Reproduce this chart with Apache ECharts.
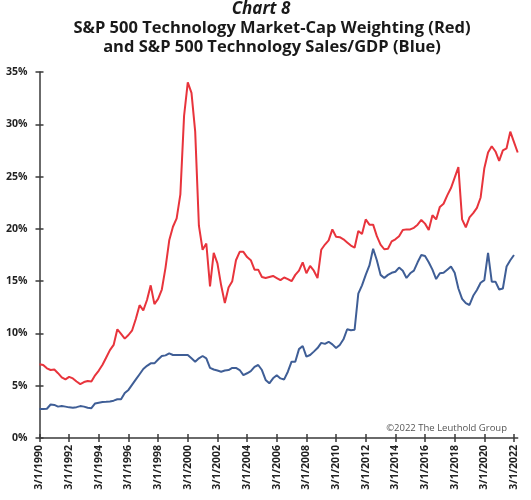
<!DOCTYPE html>
<html>
<head>
<meta charset="utf-8">
<script src="https://cdn.jsdelivr.net/npm/echarts@6/dist/echarts.min.js"></script>
<style>html,body{margin:0;padding:0;background:#fff}#c{width:531px;height:500px}</style>
</head>
<body>
<div id="c"></div>
<script>
// Quarterly observations, first quarter 3/1/1990
const startYear = 1990;
const quarterCount = 130;
const quarterMonths = [3, 6, 9, 12];
const yTicks = [0, 5, 10, 15, 20, 25, 30, 35];

// S&P 500 Technology market-cap weighting (%)
const marketCapWeight = [
  7.05, 6.98, 6.66, 6.5, 6.55, 6.2, 5.8, 5.6, 5.85, 5.7,
  5.4, 5.15, 5.35, 5.45, 5.4, 6.0, 6.45, 7.0, 7.7, 8.4,
  8.9, 10.4, 9.95, 9.5, 9.85, 10.3, 11.4, 12.7, 12.2, 13.2,
  14.6, 12.8, 13.3, 14.2, 16.3, 18.9, 20.2, 21.0, 23.3, 30.8,
  34.0, 33.0, 29.3, 20.3, 18.0, 18.6, 14.5, 17.7, 16.7, 14.6,
  12.9, 14.4, 15.0, 17.0, 17.8, 17.8, 17.3, 17.0, 16.1, 16.1,
  15.4, 15.3, 15.4, 15.5, 15.3, 15.1, 15.35, 15.2, 15.0, 15.6,
  16.0, 16.8, 15.75, 16.45, 16.0, 15.3, 18.0, 18.5, 18.9, 19.95,
  19.25, 19.2, 19.0, 18.7, 18.4, 18.2, 19.8, 19.5, 20.9, 20.4,
  20.4, 19.3, 18.5, 18.05, 18.1, 18.8, 19.0, 19.3, 19.9, 19.95,
  19.95, 20.1, 20.4, 20.85, 20.5, 19.9, 21.3, 20.9, 22.1, 22.4,
  23.2, 23.9, 24.9, 25.9, 20.9, 20.15, 21.1, 21.5, 22.0, 23.0,
  25.8, 27.3, 27.9, 27.4, 26.5, 27.5, 27.7, 29.3, 28.3, 27.3
];

// S&P 500 Technology sales / GDP (%)
const salesToGdp = [
  2.77, 2.77, 2.8, 3.2, 3.16, 3.0, 3.05, 3.0, 2.93, 2.9,
  2.95, 3.05, 3.0, 2.9, 2.85, 3.3, 3.38, 3.45, 3.47, 3.5,
  3.57, 3.7, 3.7, 4.3, 4.6, 5.1, 5.6, 6.1, 6.6, 6.9,
  7.14, 7.14, 7.5, 7.84, 7.9, 8.1, 7.94, 7.94, 7.94, 7.94,
  7.94, 7.62, 7.3, 7.62, 7.84, 7.62, 6.7, 6.55, 6.45, 6.34,
  6.45, 6.5, 6.7, 6.7, 6.5, 6.02, 6.19, 6.4, 6.8, 6.98,
  6.5, 5.55, 5.23, 5.71, 6.0, 5.7, 5.6, 6.34, 7.3, 7.3,
  8.5, 8.8, 7.78, 7.94, 8.26, 8.6, 9.1, 9.0, 9.2, 8.95,
  8.6, 8.9, 9.44, 10.4, 10.3, 10.35, 13.8, 14.6, 15.6, 16.5,
  18.1, 17.0, 15.6, 15.3, 15.6, 15.8, 15.9, 16.3, 16.0, 15.3,
  15.75, 16.0, 16.8, 17.5, 17.4, 16.8, 16.1, 15.2, 15.75, 15.8,
  16.1, 16.4, 15.8, 14.3, 13.3, 12.9, 12.72, 13.6, 14.15, 14.85,
  15.1, 17.7, 14.95, 14.95, 14.2, 14.3, 16.4, 17.0, 17.5, null
];

const categories = [];
for (let i = 0; i < quarterCount; i++) {
  categories.push(quarterMonths[i % 4] + '/1/' + (startYear + Math.floor(i / 4)));
}

const chart = echarts.init(document.getElementById('c'), null, {renderer: 'canvas'});
const axisColor = '#3a3a3a';
const labelFont = '"Open Sans", "DejaVu Sans", sans-serif';
const every8 = (i) => i % 8 === 0;

chart.setOption({
  animation: false,
  backgroundColor: '#ffffff',
  grid: {left: 39.5, right: 13.3, top: 72, bottom: 62, containLabel: false},
  graphic: [
    {type: 'text', x: 261, y: 1, style: {text: 'Chart 8', align: 'center', verticalAlign: 'top', font: 'italic bold 17px "Open Sans", sans-serif', fill: '#1a1a1a'}},
    {type: 'text', x: 272, y: 20, style: {text: 'S&P 500 Technology Market-Cap Weighting (Red)', align: 'center', verticalAlign: 'top', font: 'bold 16.5px "Open Sans", sans-serif', fill: '#1a1a1a'}},
    {type: 'text', x: 272, y: 39, style: {text: 'and S&P 500 Technology Sales/GDP (Blue)', align: 'center', verticalAlign: 'top', font: 'bold 16.5px "Open Sans", sans-serif', fill: '#1a1a1a'}},
    {type: 'text', right: 24, top: 423, style: {text: '\u00a92022 The Leuthold Group', font: '9.5px "Open Sans", sans-serif', fill: '#555555'}}
  ],
  xAxis: [
    {
      type: 'category', data: categories, boundaryGap: false, position: 'bottom',
      axisLine: {lineStyle: {color: axisColor, width: 1.5}},
      axisTick: {show: true, interval: every8, length: 4, inside: false, lineStyle: {color: axisColor, width: 1.5}},
      axisLabel: {interval: every8, rotate: 90, margin: 7, color: '#222', fontWeight: 'bold', fontSize: 10.5, fontFamily: labelFont},
      splitLine: {show: false}
    },
    {
      type: 'category', data: categories, boundaryGap: false, position: 'bottom', offset: 0,
      axisLine: {show: false},
      axisTick: {show: true, interval: every8, length: 4, inside: true, lineStyle: {color: axisColor, width: 1.5}},
      axisLabel: {show: false}, splitLine: {show: false}
    }
  ],
  yAxis: [
    {
      type: 'value', min: yTicks[0], max: yTicks[yTicks.length - 1], interval: 5,
      axisLine: {show: true, lineStyle: {color: axisColor, width: 1.5}},
      axisTick: {show: true, length: 4, inside: false, lineStyle: {color: axisColor, width: 1.5}},
      axisLabel: {formatter: '{value}%', margin: 12, color: '#222', fontWeight: 'bold', fontSize: 10.5, fontFamily: labelFont},
      splitLine: {show: false}
    },
    {
      type: 'value', min: yTicks[0], max: yTicks[yTicks.length - 1], interval: 5, position: 'left', offset: 0,
      axisLine: {show: false},
      axisTick: {show: true, length: 4, inside: true, lineStyle: {color: axisColor, width: 1.5}},
      axisLabel: {show: false}, splitLine: {show: false}
    }
  ],
  series: [
    {
      name: 'Sales/GDP', type: 'line', data: salesToGdp, xAxisIndex: 0, yAxisIndex: 0,
      showSymbol: false, symbol: 'none', lineStyle: {color: '#3f5e96', width: 2}, z: 3
    },
    {
      name: 'Market-Cap Weighting', type: 'line', data: marketCapWeight, xAxisIndex: 0, yAxisIndex: 0,
      showSymbol: false, symbol: 'none', lineStyle: {color: '#e8343c', width: 2}, z: 4
    }
  ]
});
</script>
</body>
</html>
